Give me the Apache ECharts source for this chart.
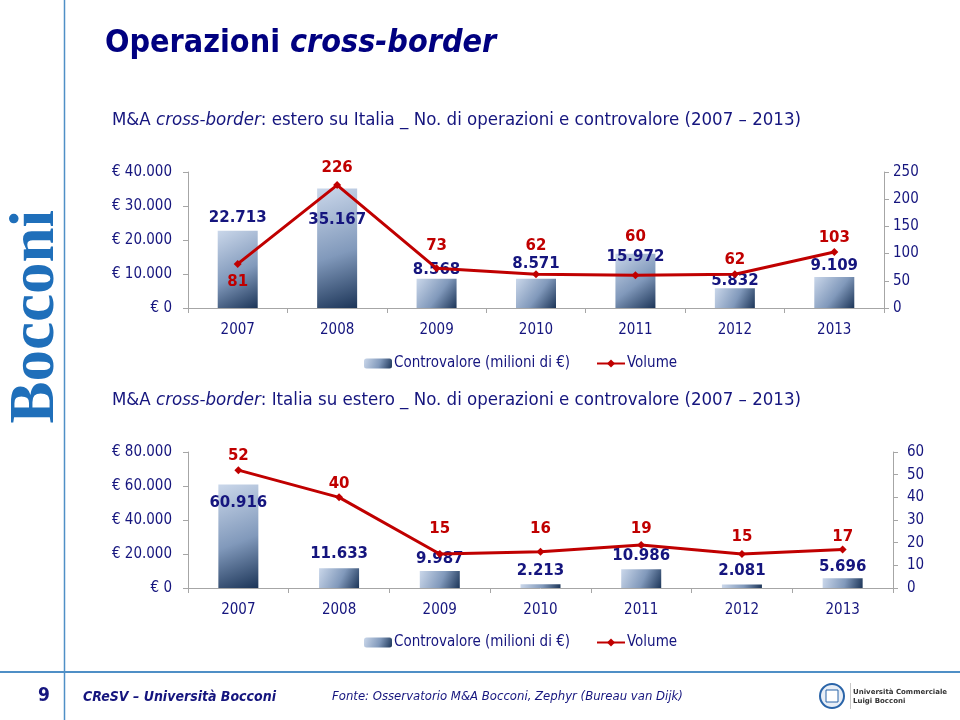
<!DOCTYPE html>
<html>
<head>
<meta charset="utf-8">
<script src="https://cdn.jsdelivr.net/npm/echarts@6/dist/echarts.min.js"></script>
<style>html,body{margin:0;padding:0;background:#fff;}#c{width:960px;height:720px;}</style>
</head>
<body>
<div id="c"></div>
<script>
// ---- data ----
const years = ['2007', '2008', '2009', '2010', '2011', '2012', '2013'];
const inboundValue = [22713, 35167, 8568, 8571, 15972, 5832, 9109];   // estero su Italia, milioni di €
const inboundVolume = [81, 226, 73, 62, 60, 62, 103];
const outboundValue = [60916, 11633, 9987, 2213, 10986, 2081, 5696];  // Italia su estero, milioni di €
const outboundVolume = [52, 40, 15, 16, 19, 15, 17];
const barName = 'Controvalore (milioni di €)';
const lineName = 'Volume';

// ---- styling ----
const NAVY = '#15157e';
const RED = '#c00000';
const FONT = '"DejaVu Sans Condensed", "DejaVu Sans", sans-serif';
const LABEL_FONT = '"DejaVu Sans", Verdana, sans-serif';

function fmtThousands(v) {
  return String(Math.round(v)).replace(/\B(?=(\d{3})+(?!\d))/g, '.');
}
const barColor = new echarts.graphic.LinearGradient(0, 0, 1, 1, [
  { offset: 0, color: '#cad7ea' },
  { offset: 0.55, color: '#8199bb' },
  { offset: 1, color: '#1c3558' }
]);

// label placement per point (position, distance)
const barLbl1 = [['top', 5], ['insideTop', 24], ['top', 1], ['top', 7], ['insideTop', -4], ['top', 0], ['top', 3]];
const lineLbl1 = [['bottom', 7], ['top', 5], ['top', 11], ['top', 17], ['top', 27], ['top', 3], ['top', 2]];
const barLbl2 = [['insideTop', 11], ['top', 7], ['top', 4], ['top', 6], ['top', 6], ['top', 6], ['top', 4]];
const lineLbl2 = [['top', 3], ['top', 2], ['top', 13], ['top', 11], ['top', 4], ['top', 5], ['top', 1]];

function withLabels(values, cfg, color, fmt) {
  return values.map((v, i) => ({
    value: v,
    label: { show: true, position: cfg[i][0], distance: cfg[i][1], color: color,
      fontFamily: LABEL_FONT, fontWeight: 'bold', fontSize: 15, formatter: p => fmt(p.value) }
  }));
}

const axisLineStyle = { lineStyle: { color: '#a6a6a6', width: 1 } };
function catAxis(gi) {
  return { type: 'category', gridIndex: gi, data: years, boundaryGap: true,
    axisLine: axisLineStyle, axisTick: { show: true, length: 5, lineStyle: { color: '#a6a6a6' } },
    axisLabel: { color: NAVY, fontFamily: FONT, fontSize: 15, margin: 15 } };
}
function valAxis(gi, pos, max, interval, fmt, margin) {
  return { type: 'value', gridIndex: gi, position: pos, min: 0, max: max, interval: interval,
    splitLine: { show: false },
    axisLine: { show: true, lineStyle: { color: '#a6a6a6' } },
    axisTick: { show: true, length: 5, lineStyle: { color: '#a6a6a6' } },
    axisLabel: { color: NAVY, fontFamily: FONT, fontSize: 15, margin: margin, formatter: fmt } };
}
const euroFmt = v => '€ ' + fmtThousands(v);
const numFmt = v => String(v);

const chart = echarts.init(document.getElementById('c'), null, { renderer: 'canvas' });
chart.setOption({
  animation: false,
  backgroundColor: '#ffffff',
  grid: [
    { left: 188, right: 76, top: 172, height: 136 },
    { left: 188, right: 67, top: 452, height: 136 }
  ],
  xAxis: [catAxis(0), catAxis(1)],
  yAxis: [
    valAxis(0, 'left', 40000, 10000, euroFmt, 16),
    valAxis(0, 'right', 250, 50, numFmt, 9),
    valAxis(1, 'left', 80000, 20000, euroFmt, 16),
    valAxis(1, 'right', 60, 10, numFmt, 14)
  ],
  legend: [
    { left: 359, top: 351, itemWidth: 28, itemHeight: 10, itemGap: 26,
      textStyle: { color: NAVY, fontFamily: FONT, fontSize: 15, padding: [0, 0, 0, -3] }, data: [barName, lineName] },
    { left: 359, top: 630, itemWidth: 28, itemHeight: 10, itemGap: 26,
      textStyle: { color: NAVY, fontFamily: FONT, fontSize: 15, padding: [0, 0, 0, -3] }, data: [barName, lineName] }
  ],
  series: [
    { name: barName, type: 'bar', xAxisIndex: 0, yAxisIndex: 0, barWidth: 40,
      itemStyle: { color: barColor }, data: withLabels(inboundValue, barLbl1, NAVY, fmtThousands), z: 2 },
    { name: lineName, type: 'line', xAxisIndex: 0, yAxisIndex: 1, symbol: 'diamond', symbolSize: 8,
      lineStyle: { color: RED, width: 3 }, itemStyle: { color: RED },
      data: withLabels(inboundVolume, lineLbl1, RED, v => String(v)), z: 3 },
    { name: barName, type: 'bar', xAxisIndex: 1, yAxisIndex: 2, barWidth: 40,
      itemStyle: { color: barColor }, data: withLabels(outboundValue, barLbl2, NAVY, fmtThousands), z: 2 },
    { name: lineName, type: 'line', xAxisIndex: 1, yAxisIndex: 3, symbol: 'diamond', symbolSize: 8,
      lineStyle: { color: RED, width: 3 }, itemStyle: { color: RED },
      data: withLabels(outboundVolume, lineLbl2, RED, v => String(v)), z: 3 }
  ],
  graphic: [
    { type: 'line', shape: { x1: 64.5, y1: 0, x2: 64.5, y2: 720 }, style: { stroke: '#4f8fc6', lineWidth: 1.5 }, silent: true },
    { type: 'line', shape: { x1: 0, y1: 672, x2: 960, y2: 672 }, style: { stroke: '#4f8fc6', lineWidth: 2 }, silent: true },
    { type: 'text', left: 5, top: 210, rotation: Math.PI / 2, originX: 0, originY: 0,
      style: { text: 'Bocconi', fill: '#1f6fba', font: 'bold 63px "Liberation Serif", "DejaVu Serif", serif' }, silent: true },
    { type: 'text', x: 105, y: 28,
      style: { text: '{a|Operazioni }{b|cross-border}', rich: {
        a: { fill: '#000080', font: 'bold 32px ' + FONT },
        b: { fill: '#000080', font: 'italic bold 32px ' + FONT } } } },
    { type: 'text', x: 112, y: 111,
      style: { text: '{a|M&A }{b|cross-border}{a|: estero su Italia _ No. di operazioni e controvalore (2007 – 2013)}', rich: {
        a: { fill: '#15157e', font: '18.5px ' + FONT },
        b: { fill: '#15157e', font: 'italic 18.5px ' + FONT } } } },
    { type: 'text', x: 112, y: 391,
      style: { text: '{a|M&A }{b|cross-border}{a|: Italia su estero _ No. di operazioni e controvalore (2007 – 2013)}', rich: {
        a: { fill: '#15157e', font: '18.5px ' + FONT },
        b: { fill: '#15157e', font: 'italic 18.5px ' + FONT } } } },
    { type: 'text', x: 38, y: 687, style: { text: '9', fill: '#15157e', font: 'bold 19px ' + FONT } },
    { type: 'text', x: 83, y: 690, style: { text: 'CReSV – Università Bocconi', fill: '#15157e', font: 'italic bold 14px ' + FONT } },
    { type: 'text', x: 332, y: 690, style: { text: 'Fonte: Osservatorio M&A Bocconi, Zephyr (Bureau van Dijk)', fill: '#15157e', font: 'italic 13px ' + FONT } },
    { type: 'circle', shape: { cx: 832, cy: 696, r: 12 }, style: { fill: '#e8eef6', stroke: '#2a64a8', lineWidth: 2 } },
    { type: 'rect', shape: { x: 826, y: 690, width: 12, height: 12 }, style: { fill: '#ffffff', stroke: '#2a64a8', lineWidth: 1 } },
    { type: 'line', shape: { x1: 850.5, y1: 683, x2: 850.5, y2: 709 }, style: { stroke: '#c8c8c8', lineWidth: 1 } },
    { type: 'text', x: 853, y: 688, style: { text: 'Università Commerciale\nLuigi Bocconi', fill: '#333333', font: 'bold 7px ' + LABEL_FONT, lineHeight: 9 } }
  ]
});
</script>
</body>
</html>
